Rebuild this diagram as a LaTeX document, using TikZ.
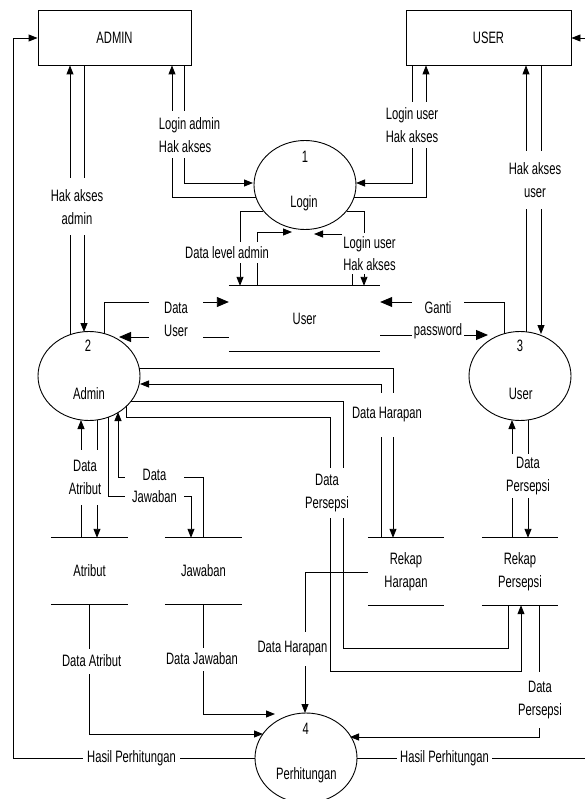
\documentclass[tikz,border=0pt]{standalone}
\usepackage{fontspec}
\setmainfont{Liberation Sans}[FakeStretch=0.68]
\usetikzlibrary{arrows.meta,shapes.geometric}
\begin{document}
\begin{tikzpicture}[x=1pt,y=-1pt,
  every node/.style={font=\fontsize{16.5}{22.5}\selectfont},
  ln/.style={line width=0.9pt},
  ar/.style={line width=0.9pt,-{Triangle[length=9pt,width=7pt]}},
  arb/.style={line width=0.9pt,-{Triangle[length=12pt,width=10pt]}},
  ent/.style={draw,line width=0.9pt,minimum height=55pt,inner sep=0pt},
  proc/.style={draw,ellipse,line width=0.9pt,minimum width=102pt,minimum height=89pt,inner sep=0pt},
  store/.style={inner sep=0pt,align=center},
  lab/.style={fill=white,inner sep=1pt,align=center},
]
\path[fill=white,use as bounding box] (0,0) rectangle (584,799);

% external entities
\node[ent,minimum width=153pt] (ADMIN) at (114.5,37.5) {ADMIN};
\node[ent,minimum width=165pt] (USER) at (488.5,37.5) {USER};

% processes
\node[proc] (c1) at (305,185) {};
\node[proc] (c2) at (89,376) {};
\node[proc] (c3) at (520,376) {};
\node[proc,minimum height=90pt] (c4) at (306,758) {};

% data stores
\node[store,minimum width=151pt,minimum height=65pt] (sUser) at (304.5,318.5) {User};
\node[store,minimum width=77pt,minimum height=66pt] (sAtr) at (89.5,571) {Atribut};
\node[store,minimum width=77pt,minimum height=66pt] (sJaw) at (203.5,571) {Jawaban};
\node[store,minimum width=76pt,minimum height=67pt] (sRH) at (406,571.5) {Rekap\\Harapan};
\node[store,minimum width=76pt,minimum height=67pt] (sRP) at (520,571.5) {Rekap\\Persepsi};
\foreach \s in {sUser,sAtr,sJaw,sRH,sRP}{
  \draw[ln] (\s.north west) -- (\s.north east) (\s.south west) -- (\s.south east);
}

% ADMIN <-> Login
\draw[ar] (256,197) -- (172,197) -- (172,0 |- ADMIN.south);
\draw[ar] (184,0 |- ADMIN.south) -- (184,183) -- (253,183);
% USER <-> Login
\draw[ar] (412,0 |- USER.south) -- (412,183) -- (356,183);
\draw[ar] (354,197) -- (426,197) -- (426,0 |- USER.south);
% ADMIN <-> Admin
\draw[ar] (70,335) -- (70,0 |- ADMIN.south);
\draw[ar] (84,0 |- ADMIN.south) -- (84,332);
% USER <-> User
\draw[ar] (526,332) -- (526,0 |- USER.south);
\draw[ar] (541,0 |- USER.south) -- (541,334);

% Login <-> User store
\draw[ar] (263,211) -- (240,211) -- (240,0 |- sUser.north);
\draw[ar] (257,0 |- sUser.north) -- (257,232) -- (292,232);
\draw[ar] (352,0 |- sUser.north) -- (352,234) -- (314,234);
\draw[ar] (347,211) -- (364,211) -- (364,0 |- sUser.north);

% Admin <-> User store
\draw[arb] (104,334) -- (104,302) -- (sUser.west |- 0,302);
\draw[arb] (sUser.west |- 0,337) -- (119,337);
% User <-> User store
\draw[arb] (504,334) -- (504,302) -- (sUser.east |- 0,302);
\draw[arb] (sUser.east |- 0,335) -- (488,335);

% Admin <-> Rekap
\draw[ar] (139,368) -- (393,368) -- (393,0 |- sRH.north);
\draw[ar] (381,0 |- sRH.north) -- (381,384) -- (140,384);
\draw[ln] (131,401) -- (343,401) -- (343,648) -- (508,648) -- (508,0 |- sRP.south);
\draw[ar] (126,406) -- (126,417) -- (330,417) -- (330,671) -- (521,671) -- (521,0 |- sRP.south);

% User <-> Rekap Persepsi
\draw[ar] (512,0 |- sRP.north) -- (512,420);
\draw[ar] (528,420) -- (528,0 |- sRP.north);

% Rekap -> Perhitungan
\draw[ar] (sRH.west |- 0,572) -- (305,572) -- (305,713);
\draw[ar] (539,0 |- sRP.south) -- (539,737) -- (350,737);

% Admin <-> Atribut
\draw[ar] (97,420) -- (97,0 |- sAtr.north);
\draw[ar] (81,0 |- sAtr.north) -- (81,420);
\draw[ar] (89,0 |- sAtr.south) -- (89,734) -- (263,734);

% Admin <-> Jawaban
\draw[ar] (108,417) -- (108,496) -- (191,496) -- (191,0 |- sJaw.north);
\draw[ar] (203,0 |- sJaw.north) -- (203,477) -- (118,477) -- (118,412);
\draw[ar] (203,0 |- sJaw.south) -- (203,714) -- (275,714);

% Hasil Perhitungan
\draw[ar] (c4.west) -- (13,0 |- c4.west) -- (13,38) -- (ADMIN.west |- 0,38);
\draw[ar] (c4.east) -- (590,0 |- c4.east) -- (590,38) -- (USER.east |- 0,38);

% process texts
\node (n1) at (305,157) {1};
\node (t1) at (304,203) {Login};
\node (n2) at (88,346) {2};
\node (t2) at (89,393.5) {Admin};
\node (n3) at (520,346) {3};
\node (t3) at (520.7,393.5) {User};
\node (n4) at (305.7,729) {4};
\node (t4) at (306.3,775.5) {Perhitungan};

% flow labels
\node[lab,align=left,minimum height=47pt] (L1) at (189.5,135) {Login admin\\Hak akses};
\node[lab,minimum height=46pt] (L2) at (412,125) {Login user\\Hak akses};
\node[lab,minimum height=57pt] (L3) at (77,207) {Hak akses\\admin};
\node[lab,minimum height=58pt] (L4) at (535,180) {Hak akses\\user};
\node[lab,minimum height=21pt] (L5) at (227,252.5) {Data level admin};
\node[lab,minimum height=40pt] (L6) at (369.5,253.5) {Login user\\Hak akses};
\node[lab,minimum width=54pt,minimum height=41pt] (L7) at (176,319.5) {Data\\User};
\node[lab,minimum width=52pt,minimum height=44pt] (L8) at (438,320) {Ganti\\password};
\node[lab,minimum height=44pt] (L9) at (387,415) {Data Harapan};
\node[lab,minimum height=50pt] (L10) at (327,493) {Data\\Persepsi};
\node[lab,minimum height=44pt] (L11) at (528,476) {Data\\Persepsi};
\node[lab,minimum height=55pt] (L12) at (85,477.5) {Data\\Atribut};
\node[lab,minimum width=59pt,minimum height=42pt] (L13) at (154.5,486) {Data\\Jawaban};
\node[lab,minimum height=34pt] (L14) at (292.5,649) {Data Harapan};
\node[lab,minimum height=25pt] (L15) at (91.7,661) {Data Atribut};
\node[lab,minimum height=23pt] (L16) at (202,659) {Data Jawaban};
\node[lab,minimum height=56pt] (L17) at (540,700) {Data\\Persepsi};
\node[lab,minimum width=97pt] (L18) at (131.5,758.5) {Hasil Perhitungan};
\node[lab,minimum width=95pt] (L19) at (444.5,758) {Hasil Perhitungan};
\end{tikzpicture}
\end{document}
